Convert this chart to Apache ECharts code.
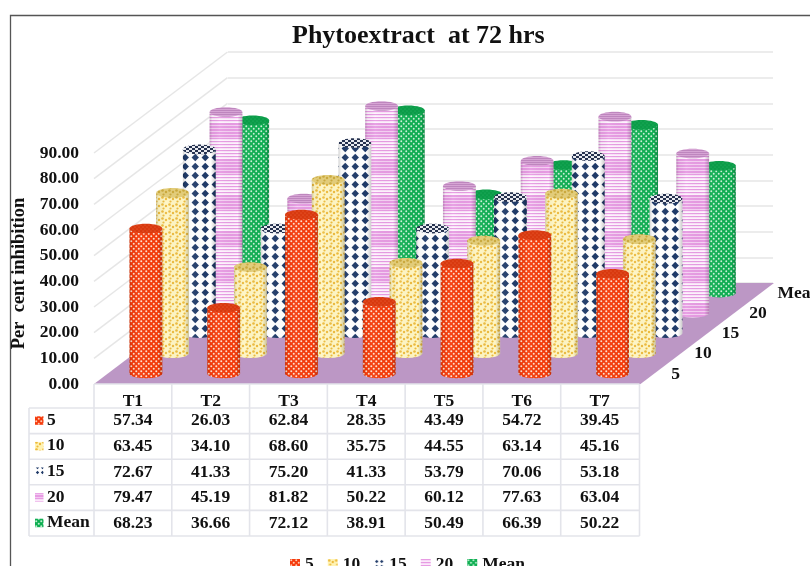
<!DOCTYPE html>
<html><head><meta charset="utf-8">
<style>html,body{margin:0;padding:0;background:#fff;overflow:hidden}#c{width:810px;height:566px}</style>
<script src="https://cdn.jsdelivr.net/npm/echarts@6/dist/echarts.min.js"></script>
</head><body><div id="c"></div>
<script>
const categories = ['T1','T2','T3','T4','T5','T6','T7'];
const s5    = [57.34,26.03,62.84,28.35,43.49,54.72,39.45];
const s10   = [63.45,34.10,68.60,35.75,44.55,63.14,45.16];
const s15   = [72.67,41.33,75.20,41.33,53.79,70.06,53.18];
const s20   = [79.47,45.19,81.82,50.22,60.12,77.63,63.04];
const sMean = [68.23,36.66,72.12,38.91,50.49,66.39,50.22];
const seriesNames = ['5','10','15','20','Mean'];
const seriesValues = [s5,s10,s15,s20,sMean];
const wallTicks = [10,20,30,40,50,60,70,80,90];

const FONT = '"Liberation Serif","Times New Roman",serif';
const DX = 26.7, DY = 20.2, RX = 16.4, RY = 4.8;
const LIFT = 10.5, SHIFT = 13, HSCALE = 0.985;
const BOLD = 'bold 17.5px '+FONT;

function tile(w,h,draw){const c=document.createElement('canvas');c.width=w;c.height=h;draw(c.getContext('2d'),w,h);return {image:c,repeat:'repeat'};}
function dots(bg,fg,r,step){return tile(step,step,(g,w,h)=>{g.fillStyle=bg;g.fillRect(0,0,w,h);g.fillStyle=fg;
  [[w/4,h/4],[3*w/4,3*h/4]].forEach(p=>{g.beginPath();g.arc(p[0],p[1],r,0,7);g.fill();});});}
function diamonds(bg,fg,sw,sh,r){return tile(sw,sh,(g,w,h)=>{g.fillStyle=bg;g.fillRect(0,0,w,h);g.fillStyle=fg;
  const x=w/2,y=h/2;g.beginPath();g.moveTo(x,y-r);g.lineTo(x+r,y);g.lineTo(x,y+r);g.lineTo(x-r,y);g.closePath();g.fill();});}
function stripes(bg,fg,fg2){return tile(4,36,(g,w,h)=>{g.fillStyle=bg;g.fillRect(0,0,w,h);
  for(let y=0;y<h;y+=3){const band=(y>=15&&y<30);g.fillStyle=band?fg2:fg;g.fillRect(0,y,w,band?2.4:1.2);}});}
function speckle(bg,fg){return tile(7,7,(g,w,h)=>{g.fillStyle=bg;g.fillRect(0,0,w,h);g.fillStyle=fg;
  [[1.5,1.5,1.3],[5,3,1.2],[2.5,5.5,1.1]].forEach(p=>{g.beginPath();g.arc(p[0],p[1],p[2],0,7);g.fill();});});}

const sidePatterns = [
  dots('#F53A0A','#FFE0D0',1,5),
  speckle('#FFF6C4','#EDBB3E'),
  diamonds('#FFFFFF','#1F3A68',10.5,9,3.7),
  stripes('#FFF4FE','#E79BE3','#E79BE3'),
  dots('#0FAE52','#CBF2DA',0.95,5)
];
const topPatterns = [
  dots('#D8390F','#EE6A3C',0.6,4),
  speckle('#E2CC7A','#C9A83E'),
  tile(6,4,(g,w,h)=>{g.fillStyle='#E8EAF0';g.fillRect(0,0,w,h);g.fillStyle='#26324F';g.fillRect(0,0,3,2);g.fillRect(3,2,3,2);}),
  tile(4,2,(g,w,h)=>{g.fillStyle='#D6A4D4';g.fillRect(0,0,w,h);g.fillStyle='#BE86BE';g.fillRect(0,0,w,1);}),
  dots('#0B9C48','#2BB568',0.6,4)
];
const keyColors = ['#F53A0C','#F7DC6E','#1F3A68','#E79BE3','#0FAE52'];
const legendPatterns = [
  dots('#F53A0C','#FFC9B0',1,5),
  speckle('#FFF3B4','#EDB93C'),
  diamonds('#FFFFFF','#1F3A68',5,5,1.7),
  stripes('#FBE8FA','#E79BE3','#E79BE3'),
  dots('#0FAE52','#BEEFD0',1,5)
];
const shade = {type:'linear',x:0,y:0,x2:1,y2:0,colorStops:[
  {offset:0,color:'rgba(0,0,0,0.17)'},{offset:0.08,color:'rgba(0,0,0,0.03)'},
  {offset:0.3,color:'rgba(255,255,255,0.06)'},{offset:0.85,color:'rgba(0,0,0,0)'},
  {offset:1,color:'rgba(0,0,0,0.2)'}]};

function cylinder(depth){
  return function(params,api){
    const cat=api.value(0), val=api.value(1);
    const base=api.coord([cat,0]), top=api.coord([cat,val]);
    const cx=base[0]+SHIFT+depth*DX, by=base[1]-LIFT-depth*DY;
    const ty=by-(base[1]-top[1])*HSCALE;
    const l=cx-RX, r=cx+RX;
    const body=`M${l} ${ty}L${l} ${by}A${RX} ${RY} 0 0 0 ${r} ${by}L${r} ${ty}Z`;
    return {type:'group',silent:true,children:[
      {type:'path',shape:{pathData:body},style:{fill:sidePatterns[depth]}},
      {type:'path',shape:{pathData:body},style:{fill:shade}},
      {type:'ellipse',shape:{cx:cx,cy:ty,rx:RX,ry:RY},style:{fill:topPatterns[depth]}}
    ]};
  };
}

const cylinderSeries = [4,3,2,1,0].map(d=>({
  type:'custom',name:seriesNames[d],silent:true,clip:false,
  coordinateSystem:'cartesian2d',xAxisIndex:0,yAxisIndex:0,z:3,
  itemStyle:{color:keyColors[d]},
  encode:{x:0,y:1},
  data:seriesValues[d].map((v,i)=>[i,v]),
  renderItem:cylinder(d)
}));

const sideWall = {type:'custom',silent:true,clip:false,xAxisIndex:0,yAxisIndex:0,z:1,
  data:wallTicks.map(v=>[0,v]),encode:{x:0,y:1},
  renderItem(params,api){
    const p=api.coord([0,api.value(1)]);
    const x0=params.coordSys.x;
    return {type:'line',shape:{x1:x0,y1:p[1],x2:x0+5*DX,y2:p[1]-5*DY},style:{stroke:'#E6E6E6',lineWidth:1.5}};
  }};

const floor = {type:'custom',silent:true,clip:false,xAxisIndex:0,yAxisIndex:0,z:2,
  data:[[0,0]],encode:{x:0,y:1},
  renderItem(params,api){
    const cs=params.coordSys, y=api.coord([0,0])[1];
    return {type:'polygon',shape:{points:[[cs.x,y],[cs.x+cs.width+2,y],[cs.x+cs.width+2+5*DX,y-5*DY],[cs.x+5*DX,y-5*DY]]},
      style:{fill:'#BC97C5'}};
  }};

const depthLabels = {type:'custom',silent:true,clip:false,xAxisIndex:0,yAxisIndex:0,z:4,
  data:seriesNames.map((n,i)=>[6,i]),encode:{x:0},
  renderItem(params,api){
    const d=params.dataIndex, cs=params.coordSys, y=api.coord([0,0])[1];
    const mean=d==4;
    return {type:'text',style:{text:seriesNames[d],x:cs.x+cs.width+37+d*(mean?25.5:27.5),y:y-10-d*DY,
      textAlign:mean?'left':'center',textVerticalAlign:'middle',font:BOLD,fill:'#111'}};
  }};

const ROW_TOP=408, ROW_H=25.6, TABLE_LEFT=29;
const table = {type:'custom',silent:true,clip:false,xAxisIndex:0,yAxisIndex:0,z:4,
  data:[[0,0]],encode:{x:0,y:1},
  renderItem(params,api){
    const cs=params.coordSys, y0=api.coord([0,0])[1], cw=cs.width/categories.length, right=cs.x+cs.width+1;
    const ch=[], stroke='#E3E4EA';
    const ln=(a,b,c,d)=>ch.push({type:'line',shape:{x1:a,y1:b,x2:c,y2:d},style:{stroke:stroke,lineWidth:1.6}});
    ln(cs.x,y0,right,y0);
    for(let r=0;r<=5;r++) ln(TABLE_LEFT,ROW_TOP+r*ROW_H,right,ROW_TOP+r*ROW_H);
    ln(TABLE_LEFT,ROW_TOP,TABLE_LEFT,ROW_TOP+5*ROW_H);
    for(let c=0;c<=7;c++){const x=c==7?right:cs.x+c*cw;ln(x,y0,x,ROW_TOP+5*ROW_H);}
    seriesNames.forEach((n,r)=>{
      const yc=ROW_TOP+(r+0.5)*ROW_H;
      ch.push({type:'rect',shape:{x:35,y:yc-4.5,width:8.5,height:8.5},style:{fill:legendPatterns[r]}});
      ch.push({type:'text',style:{text:n,x:47,y:yc-0.5,textAlign:'left',textVerticalAlign:'middle',font:BOLD,fill:'#111'}});
      seriesValues[r].forEach((v,c)=>{
        ch.push({type:'text',style:{text:v.toFixed(2),x:cs.x+(c+0.5)*cw,y:yc,textAlign:'center',textVerticalAlign:'middle',font:BOLD,fill:'#111'}});
      });
    });
    return {type:'group',children:ch};
  }};

const chart = echarts.init(document.getElementById('c'));
chart.setOption({
  animation:false,backgroundColor:'#fff',
  title:{text:'Phytoextract  at 72 hrs',left:287,top:18,textStyle:{fontFamily:FONT,fontWeight:'bold',fontSize:26,color:'#111'}},
  graphic:[{type:'rect',silent:true,z:-1,shape:{x:10.5,y:15.5,width:830,height:600},style:{fill:'none',stroke:'#555',lineWidth:1.3}}],
  legend:{left:285,top:550,itemWidth:10,itemHeight:10,itemGap:14,selectedMode:false,
    textStyle:{fontFamily:FONT,fontWeight:'bold',fontSize:17.5,color:'#111'},
    data:seriesNames.map((n,i)=>({name:n,icon:'rect',itemStyle:{color:legendPatterns[i]}}))},
  grid:[
    {left:94,top:153,width:544.5,height:231},
    {left:228,top:52,width:545,height:231}
  ],
  xAxis:[
    {type:'category',gridIndex:0,data:categories,axisLine:{show:false},axisTick:{show:false},
     axisLabel:{margin:8,fontFamily:FONT,fontWeight:'bold',fontSize:17.5,color:'#111'}},
    {type:'category',gridIndex:1,data:categories,show:false}
  ],
  yAxis:[
    {type:'value',gridIndex:0,min:0,max:90,interval:10,splitLine:{show:false},axisLine:{show:false},axisTick:{show:false},
     axisLabel:{margin:15,formatter:v=>v.toFixed(2),fontFamily:FONT,fontWeight:'bold',fontSize:17.5,color:'#111'},
     name:'Per  cent inhibition',nameLocation:'middle',nameGap:63,nameRotate:90,
     nameTextStyle:{fontFamily:FONT,fontWeight:'bold',fontSize:18.5,color:'#111',padding:[0,10,0,0]}},
    {type:'value',gridIndex:1,min:0,max:90,interval:10,axisLine:{show:false},axisTick:{show:false},axisLabel:{show:false},
     splitLine:{show:true,lineStyle:{color:'#E6E6E6',width:1.5}}}
  ],
  series:[sideWall,floor].concat(cylinderSeries,[depthLabels,table])
});
</script></body></html>
